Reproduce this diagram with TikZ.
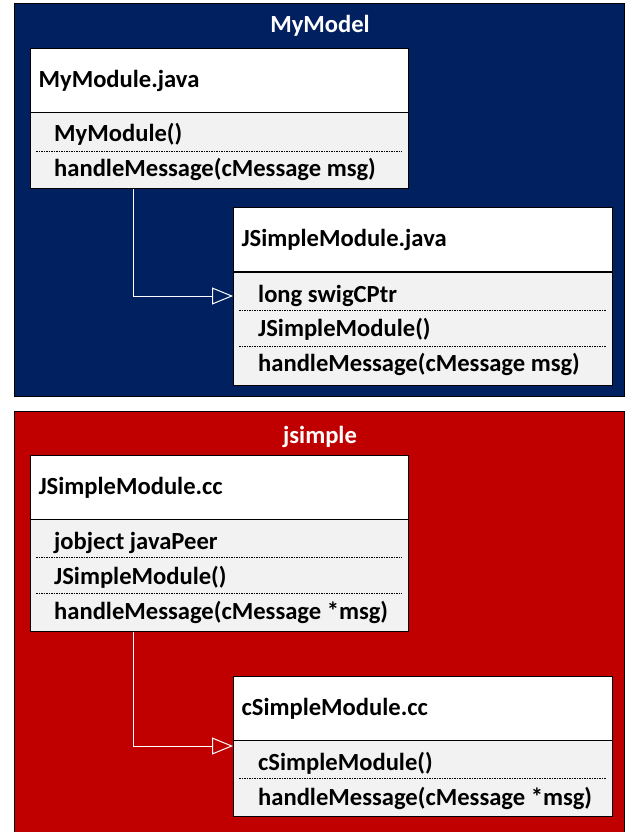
\documentclass[tikz,border=0pt]{standalone}
\usepackage{fontspec}
\setmainfont{Carlito}
\usetikzlibrary{arrows.meta}

\definecolor{modelblue}{HTML}{002060}
\definecolor{simplered}{HTML}{C00000}
\definecolor{membergray}{HTML}{F2F2F2}

\tikzset{
  package/.style={draw=black, line width=1pt, anchor=north west, inner sep=0pt,
    minimum width=610pt},
  pkgname/.style={white, anchor=base},
  classname/.style={draw=black, line width=1.2pt, fill=white, anchor=north west,
    minimum height=64pt, text width=362pt, inner xsep=8pt, align=left},
  members/.style={draw=black, line width=1.2pt, fill=membergray, anchor=north west,
    inner sep=0pt},
  member/.style={anchor=base west, inner sep=0pt},
  sep/.style={line width=0.8pt, dash pattern=on 1.5pt off 1pt},
  realize/.style={white, line width=1pt,
    -{Triangle[open, length=21pt, width=17pt, line width=1pt]}}
}

\begin{document}
\begin{tikzpicture}[x=1pt, y=-1pt, font=\fontsize{24.6}{28}\selectfont\bfseries]
  \useasboundingbox (0,0) rectangle (629,832);

  % Packages
  \node[package, fill=modelblue, minimum height=393pt] (mymodel) at (14,3) {};
  \node[pkgname] (mymodelname) at (320,33) {MyModel};
  \node[package, fill=simplered, minimum height=430pt] (jsimple) at (14,411) {};
  \node[pkgname] (jsimplename) at (320,443) {jsimple};

  % MyModule.java
  \node[classname, text width=362pt] (mymodule) at (30,48) {MyModule.java};
  \node[members, minimum width=378pt, minimum height=76pt] (mymodulemem) at (30,112) {};
  \node[member] (mymodulector) at (54,142) {MyModule()};
  \node[member] (mymodulehandle) at (54,176) {handleMessage(cMessage msg)};
  \draw[sep] (36,151) -- (402,151);

  % JSimpleModule.java
  \node[classname, text width=363pt] (jsimplejava) at (233,207) {JSimpleModule.java};
  \node[members, minimum width=379pt, minimum height=113pt] (jsimplejavamem) at (233,272) {};
  \node[member] (swigptr) at (258,302) {long swigCPtr};
  \node[member] (jsimplejavactor) at (258,336) {JSimpleModule()};
  \node[member] (jsimplejavahandle) at (258,371) {handleMessage(cMessage msg)};
  \foreach \y in {310,346}
    \draw[sep] (239,\y) -- (606,\y);

  % JSimpleModule.cc
  \node[classname, text width=362pt] (jsimplecc) at (30,455) {JSimpleModule.cc};
  \node[members, minimum width=378pt, minimum height=112pt] (jsimpleccmem) at (30,519) {};
  \node[member] (javapeer) at (54,549) {jobject javaPeer};
  \node[member] (jsimpleccctor) at (54,584) {JSimpleModule()};
  \node[member] (jsimplecchandle) at (54,619) {handleMessage(cMessage *msg)};
  \foreach \y in {557,593}
    \draw[sep] (36,\y) -- (402,\y);

  % cSimpleModule.cc
  \node[classname, text width=363pt] (csimple) at (233,676) {cSimpleModule.cc};
  \node[members, minimum width=379pt, minimum height=76pt] (csimplemem) at (233,740) {};
  \node[member] (csimplector) at (258,770) {cSimpleModule()};
  \node[member] (csimplehandle) at (258,805) {handleMessage(cMessage *msg)};
  \draw[sep] (239,778) -- (606,778);

  % Realizations
  \coordinate (bendjava) at (133,296);
  \coordinate (bendcc) at (133,746);
  \draw[realize] (mymodulemem.south -| bendjava) |- (jsimplejavamem.west |- bendjava);
  \draw[realize] (jsimpleccmem.south -| bendcc) |- (csimplemem.west |- bendcc);
\end{tikzpicture}
\end{document}
